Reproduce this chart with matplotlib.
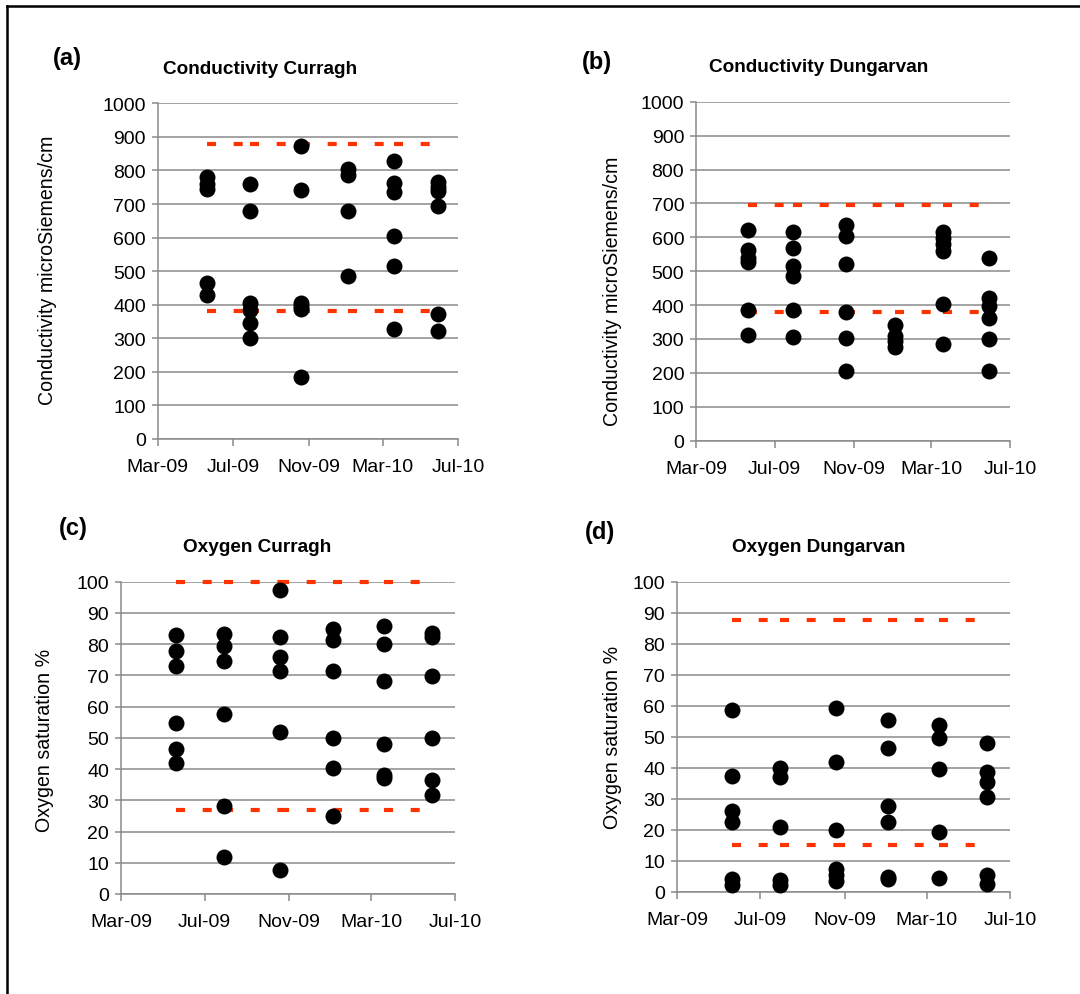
import datetime as dt
import matplotlib
matplotlib.use("Agg")
import matplotlib.pyplot as plt
import matplotlib.dates as mdates

plt.rcParams['font.family'] = ['Liberation Sans', 'DejaVu Sans']
plt.rcParams['lines.scale_dashes'] = False

# sampling dates (same six surveys for every panel)
dates = [dt.date(2009, 5, 20), dt.date(2009, 7, 29), dt.date(2009, 10, 19),
         dt.date(2010, 1, 4), dt.date(2010, 3, 19), dt.date(2010, 5, 29)]

# (a) conductivity Curragh, values per survey
cond_curragh = [
    [780, 760, 745, 466, 428],
    [760, 680, 405, 385, 345, 300],
    [872, 743, 405, 395, 388, 186],
    [805, 787, 680, 487],
    [827, 762, 735, 606, 516, 328],
    [765, 750, 738, 695, 372, 323],
]
cond_curragh_limits = [880, 380]

# (b) conductivity Dungarvan
cond_dungarvan = [
    [622, 562, 540, 526, 386, 312],
    [617, 568, 516, 487, 386, 307],
    [637, 605, 521, 379, 302, 206],
    [340, 310, 295, 276],
    [615, 598, 580, 560, 403, 285],
    [539, 421, 398, 362, 300, 206],
]
cond_dungarvan_limits = [695, 380]

# (c) oxygen Curragh
oxy_curragh = [
    [82.9, 77.9, 72.9, 54.7, 46.4, 41.9],
    [83.2, 79.5, 74.7, 57.6, 28.3, 12.0],
    [97.4, 82.4, 75.8, 71.3, 51.8, 7.7],
    [84.8, 81.3, 71.3, 50.0, 40.3, 24.9],
    [85.7, 79.9, 68.1, 48.0, 38.2, 37.0],
    [83.6, 82.2, 69.9, 49.9, 36.6, 31.8],
]
oxy_curragh_limits = [100, 26.8]

# (d) oxygen Dungarvan
oxy_dungarvan = [
    [58.7, 37.3, 26.0, 22.7, 4.3, 2.1],
    [39.9, 37.0, 20.9, 4.0, 2.1],
    [59.2, 41.8, 20.1, 7.3, 5.4, 3.5],
    [55.5, 46.4, 27.7, 22.5, 4.8, 4.3],
    [54.0, 49.6, 39.7, 19.3, 4.4],
    [48.0, 38.8, 35.4, 30.5, 5.5, 2.6],
]
oxy_dungarvan_limits = [87.7, 15.3]

W, H = 1080, 995
fig = plt.figure(figsize=(W / 100, H / 100), dpi=100)

GRAY = '#8a8a8a'
RED = '#ff3300'


def px_axes(left, right, top, bottom):
    return fig.add_axes([left / W, 1 - bottom / H, (right - left) / W, (bottom - top) / H])


def draw_panel(ax, values, limits, ymax, ystep):
    # threshold lines, dash pattern restarts at each survey date like Excel
    for lim in limits:
        for i in range(len(dates) - 1):
            ax.plot([dates[i], dates[i + 1]], [lim, lim], color=RED, lw=3,
                    linestyle=(0, (6.5, 12.7)), solid_capstyle='butt',
                    dash_capstyle='butt', zorder=2, clip_on=False)
    for d, vals in zip(dates, values):
        ax.plot([d] * len(vals), vals, 'o', color='black', markersize=11.5,
                markeredgewidth=0, zorder=3, clip_on=False)

    ax.set_xlim(dt.date(2009, 3, 1), dt.date(2010, 7, 1))
    ax.set_ylim(0, ymax)
    ax.set_yticks([ystep * k for k in range(int(ymax / ystep) + 1)])
    ax.set_xticks([dt.date(2009, 3, 1), dt.date(2009, 7, 1), dt.date(2009, 11, 1),
                   dt.date(2010, 3, 1), dt.date(2010, 7, 1)])
    ax.xaxis.set_major_formatter(mdates.DateFormatter('%b-%y'))
    ax.yaxis.grid(True, color=GRAY, lw=1.1, zorder=0)
    ax.set_axisbelow(True)
    for s in ['top', 'right']:
        ax.spines[s].set_visible(False)
    for s in ['left', 'bottom']:
        ax.spines[s].set_color(GRAY)
        ax.spines[s].set_linewidth(1.1)
    ax.tick_params(axis='y', direction='out', length=4.5, width=1.1, color=GRAY,
                   labelsize=14, pad=4)
    ax.tick_params(axis='x', direction='out', length=5, width=1.1, color=GRAY,
                   labelsize=14, pad=9)


def fig_text(x, y, s, **kw):
    fig.text(x / W, 1 - y / H, s, ha='center', va='center', **kw)


ax_a = px_axes(157.7, 458, 104.3, 440)
draw_panel(ax_a, cond_curragh, cond_curragh_limits, 1000, 100)
ax_b = px_axes(696, 1010, 102.7, 441.7)
draw_panel(ax_b, cond_dungarvan, cond_dungarvan_limits, 1000, 100)
ax_c = px_axes(121, 455, 582.7, 895)
draw_panel(ax_c, oxy_curragh, oxy_curragh_limits, 100, 10)
ax_d = px_axes(677, 1010, 583, 893)
draw_panel(ax_d, oxy_dungarvan, oxy_dungarvan_limits, 100, 10)

# panel letters and titles
fig_text(67, 59, '(a)', fontsize=17, fontweight='bold')
fig_text(597, 62, '(b)', fontsize=17, fontweight='bold')
fig_text(73, 528, '(c)', fontsize=17, fontweight='bold')
fig_text(600, 532, '(d)', fontsize=17, fontweight='bold')

fig_text(260, 69, 'Conductivity Curragh', fontsize=13.7, fontweight='bold')
fig_text(819, 67, 'Conductivity Dungarvan', fontsize=13.7, fontweight='bold')
fig_text(257, 548, 'Oxygen Curragh', fontsize=13.7, fontweight='bold')
fig_text(819, 548, 'Oxygen Dungarvan', fontsize=13.7, fontweight='bold')

fig_text(48, 270, 'Conductivity microSiemens/cm', fontsize=14.1, rotation=90)
fig_text(612, 291, 'Conductivity microSiemens/cm', fontsize=14.1, rotation=90)
fig_text(45, 740, 'Oxygen saturation %', fontsize=14.1, rotation=90)
fig_text(612, 737, 'Oxygen saturation %', fontsize=14.1, rotation=90)

# outer frame: only the left and top edges show in the picture
fig.add_artist(plt.Line2D([7 / W, 7 / W], [0, 1 - 7 / H], color='black', lw=1.8,
                          transform=fig.transFigure))
fig.add_artist(plt.Line2D([7 / W, 1], [1 - 7 / H, 1 - 7 / H], color='black', lw=1.8,
                          transform=fig.transFigure))

fig.savefig('out.png', dpi=100)
